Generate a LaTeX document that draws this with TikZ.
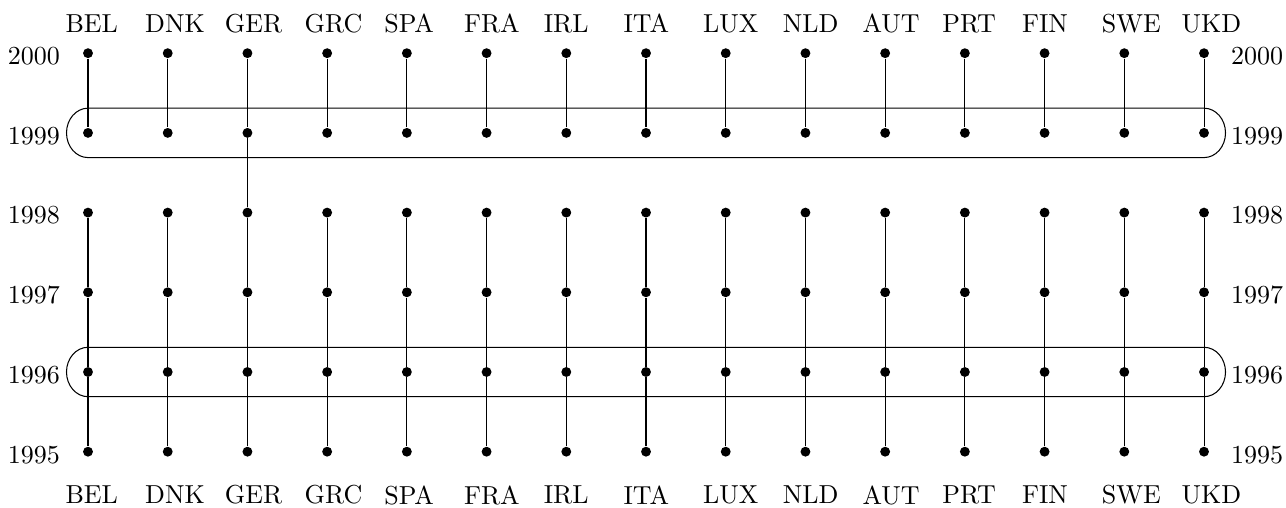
\documentclass[tikz,border=0pt]{standalone}
\usetikzlibrary{calc}
\begin{document}
\begin{tikzpicture}[x=0.38462pt,y=0.38462pt,
  dotnode/.style={circle,fill=black,inner sep=0pt,minimum size=3.8pt},
  lab/.style={inner sep=0pt},
  link/.style={line width=0.4pt},
  band/.style={line width=0.4pt}]
\useasboundingbox (0,0) rectangle (1286,508);
\foreach \c [count=\i from 0] in {BEL,DNK,GER,GRC,SPA,FRA,IRL,ITA,LUX,NLD,AUT,PRT,FIN,SWE,UKD}{
  \foreach \yr [count=\j from 0] in {1995,1996,1997,1998,1999,2000}{
    \node[dotnode] (\c-\yr) at ({88+\i*79.714},{56.3+\j*79.7}) {};
  }
  \node[lab,anchor=west] (top-\c) at ({65+\i*79.714},484.3) {\c};
  \node[lab,anchor=west] (bot-\c) at ({65+\i*79.714},13) {\c};
  \draw[link] (\c-2000) -- (\c-1999);
  \draw[link] (\c-1998) -- (\c-1997) -- (\c-1996) -- (\c-1995);
}
\draw[link] (GER-1999) -- (GER-1998);
\foreach \yr [count=\j from 0] in {1995,1996,1997,1998,1999,2000}{
  \node[lab,anchor=east] (left-\yr) at (60.5,{56.3+\j*79.7-3}) {\yr};
  \node[lab,anchor=west] (right-\yr) at (1230.5,{56.3+\j*79.7-3}) {\yr};
}
\foreach \yr in {1999,1996}{
  \draw[band] ($(BEL-\yr)+(0,24.7)$) -- ($(UKD-\yr)+(0,24.7)$)
    arc[start angle=90,end angle=-90,x radius=8.27pt,y radius=9.5pt]
    -- ($(BEL-\yr)+(0,-24.7)$)
    arc[start angle=270,end angle=90,x radius=8.27pt,y radius=9.5pt] -- cycle;
}
\end{tikzpicture}
\end{document}
